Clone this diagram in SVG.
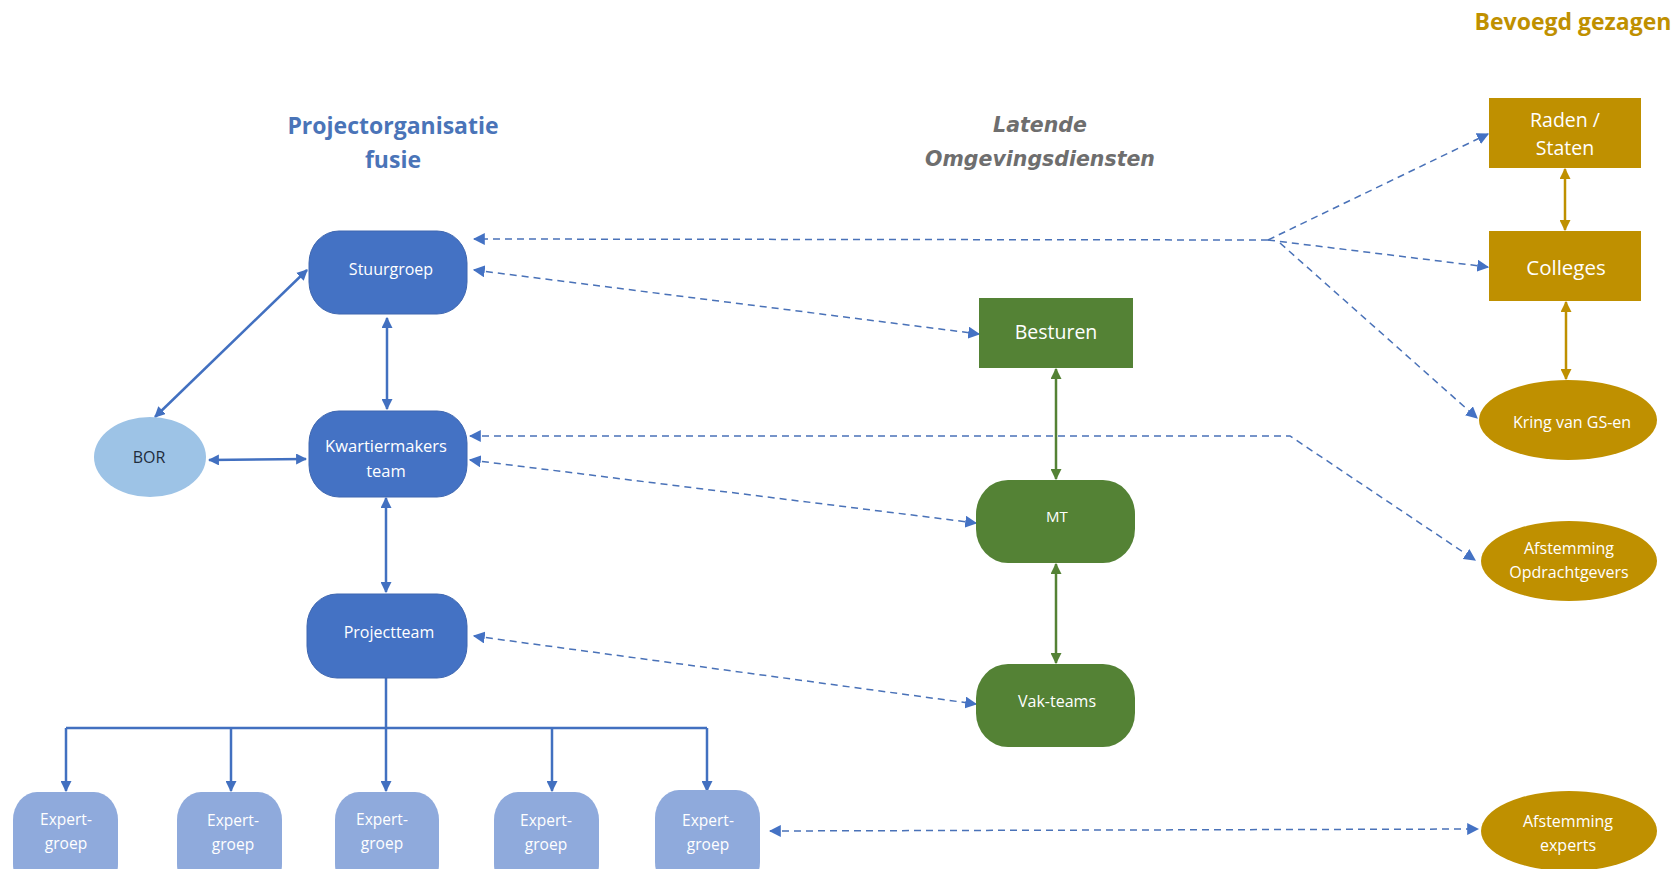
<svg xmlns="http://www.w3.org/2000/svg" width="1676" height="869" viewBox="0 0 1676 869">
<style>
text{font-family:"Open Sans","Liberation Sans",sans-serif;text-anchor:middle}
.nt{fill:#ffffff;font-size:16px}
.blue{fill:#4472C4;stroke:#3F67B0;stroke-width:1}
.exp{fill:#8FAADC}
.green{fill:#548235}
.gold{fill:#BF9000}
.solidB{stroke:#4270C0;stroke-width:2.5;fill:none}
.solidG{stroke:#548235;stroke-width:2.5;fill:none}
.solidY{stroke:#BF9000;stroke-width:2.5;fill:none}
.dash{stroke:#4A72B8;stroke-width:1.5;stroke-dasharray:7 5;fill:none}
</style>
<defs>
<marker id="ab" viewBox="0 0 10 10" refX="9" refY="5" markerWidth="11" markerHeight="11" markerUnits="userSpaceOnUse" orient="auto-start-reverse"><path d="M0,0 L10,5 L0,10 z" fill="#4270C0"/></marker>
<marker id="ag" viewBox="0 0 10 10" refX="9" refY="5" markerWidth="11" markerHeight="11" markerUnits="userSpaceOnUse" orient="auto-start-reverse"><path d="M0,0 L10,5 L0,10 z" fill="#548235"/></marker>
<marker id="ay" viewBox="0 0 10 10" refX="9" refY="5" markerWidth="11" markerHeight="11" markerUnits="userSpaceOnUse" orient="auto-start-reverse"><path d="M0,0 L10,5 L0,10 z" fill="#BF9000"/></marker>
<marker id="ad" viewBox="0 0 10 10" refX="9" refY="5" markerWidth="12" markerHeight="12" markerUnits="userSpaceOnUse" orient="auto-start-reverse"><path d="M0,0 L10,5 L0,10 z" fill="#4472C4"/></marker>
</defs>
<rect width="1676" height="869" fill="#ffffff"/>

<g id="titles">
<text x="393" y="134" style="font-size:23px;font-weight:bold;fill:#4A74B8">Projectorganisatie</text>
<text x="393" y="168" style="font-size:23px;font-weight:bold;fill:#4A74B8">fusie</text>
<text x="1040" y="132" style="font-family:'DejaVu Sans',sans-serif;font-size:20.5px;font-weight:bold;font-style:italic;fill:#6E6E6E">Latende</text>
<text x="1040" y="166" style="font-family:'DejaVu Sans',sans-serif;font-size:20.5px;font-weight:bold;font-style:italic;fill:#6E6E6E">Omgevingsdiensten</text>
<text x="1573" y="30" style="font-size:23px;font-weight:bold;fill:#BF9000">Bevoegd gezagen</text>
</g>

<g id="connectors">
<line class="solidB" x1="307" y1="270" x2="155" y2="417" marker-start="url(#ab)" marker-end="url(#ab)"/>
<line class="solidB" x1="387" y1="318" x2="387" y2="409" marker-start="url(#ab)" marker-end="url(#ab)"/>
<line class="solidB" x1="209" y1="460" x2="306" y2="459" marker-start="url(#ab)" marker-end="url(#ab)"/>
<line class="solidB" x1="386" y1="498" x2="386" y2="592" marker-start="url(#ab)" marker-end="url(#ab)"/>
<polyline class="solidB" points="386,678 386,728"/>
<polyline class="solidB" points="66,728 707,728"/>
<line class="solidB" x1="66" y1="728" x2="66" y2="791" marker-end="url(#ab)"/>
<line class="solidB" x1="231" y1="728" x2="231" y2="791" marker-end="url(#ab)"/>
<line class="solidB" x1="386" y1="728" x2="386" y2="791" marker-end="url(#ab)"/>
<line class="solidB" x1="552" y1="728" x2="552" y2="791" marker-end="url(#ab)"/>
<line class="solidB" x1="707" y1="728" x2="707" y2="791" marker-end="url(#ab)"/>
<line class="solidG" x1="1056" y1="369" x2="1056" y2="479" marker-start="url(#ag)" marker-end="url(#ag)"/>
<line class="solidG" x1="1056" y1="564" x2="1056" y2="663" marker-start="url(#ag)" marker-end="url(#ag)"/>
<line class="solidY" x1="1565" y1="169" x2="1565" y2="230" marker-start="url(#ay)" marker-end="url(#ay)"/>
<line class="solidY" x1="1566" y1="302" x2="1566" y2="379" marker-start="url(#ay)" marker-end="url(#ay)"/>
<polyline class="dash" points="1268,240 474,239" marker-end="url(#ad)"/>
<line class="dash" x1="1268" y1="240" x2="1488" y2="134" marker-end="url(#ad)"/>
<line class="dash" x1="1268" y1="240" x2="1488" y2="267" marker-end="url(#ad)"/>
<line class="dash" x1="1280" y1="243" x2="1477" y2="418" marker-end="url(#ad)"/>
<line class="dash" x1="474" y1="270" x2="979" y2="334" marker-start="url(#ad)" marker-end="url(#ad)"/>
<polyline class="dash" points="470,436 1290,436 1475,560" marker-start="url(#ad)" marker-end="url(#ad)"/>
<line class="dash" x1="470" y1="460" x2="976" y2="523" marker-start="url(#ad)" marker-end="url(#ad)"/>
<line class="dash" x1="474" y1="636" x2="976" y2="704" marker-start="url(#ad)" marker-end="url(#ad)"/>
<line class="dash" x1="770" y1="831" x2="1478" y2="829" marker-start="url(#ad)" marker-end="url(#ad)"/>
</g>

<g id="stuurgroep"><rect class="blue" x="309" y="231" width="158" height="83" rx="30" ry="32"/><text class="nt" x="391" y="275">Stuurgroep</text></g>
<g id="kwartiermakers"><rect class="blue" x="309" y="411" width="158" height="86" rx="30" ry="32"/><text class="nt" x="386" y="452" style="font-size:16.5px">Kwartiermakers</text><text class="nt" x="386" y="477" style="font-size:16.5px">team</text></g>
<g id="projectteam"><rect class="blue" x="307" y="594" width="160" height="84" rx="30" ry="32"/><text class="nt" x="389" y="638">Projectteam</text></g>
<g id="bor"><ellipse cx="150" cy="457" rx="56" ry="40" fill="#9DC3E6"/><text x="149" y="463" style="font-size:16px;fill:#1F2D3D">BOR</text></g>

<g id="expert1"><rect class="exp" x="13" y="792" width="105" height="100" rx="24" ry="28"/><text class="nt" x="66" y="825" style="font-size:15.5px">Expert-</text><text class="nt" x="66" y="849" style="font-size:15.5px">groep</text></g>
<g id="expert2"><rect class="exp" x="177" y="792" width="105" height="100" rx="24" ry="28"/><text class="nt" x="233" y="826" style="font-size:15.5px">Expert-</text><text class="nt" x="233" y="850" style="font-size:15.5px">groep</text></g>
<g id="expert3"><rect class="exp" x="335" y="792" width="104" height="100" rx="24" ry="28"/><text class="nt" x="382" y="825" style="font-size:15.5px">Expert-</text><text class="nt" x="382" y="849" style="font-size:15.5px">groep</text></g>
<g id="expert4"><rect class="exp" x="494" y="792" width="105" height="100" rx="24" ry="28"/><text class="nt" x="546" y="826" style="font-size:15.5px">Expert-</text><text class="nt" x="546" y="850" style="font-size:15.5px">groep</text></g>
<g id="expert5"><rect class="exp" x="655" y="790" width="105" height="100" rx="24" ry="28"/><text class="nt" x="708" y="826" style="font-size:15.5px">Expert-</text><text class="nt" x="708" y="850" style="font-size:15.5px">groep</text></g>

<g id="besturen"><rect class="green" x="979" y="298" width="154" height="70"/><text class="nt" x="1056" y="339" style="font-size:19.5px">Besturen</text></g>
<g id="mt"><rect class="green" x="976" y="480" width="159" height="83" rx="32" ry="34"/><text class="nt" x="1057" y="522" style="font-size:15px">MT</text></g>
<g id="vakteams"><rect class="green" x="976" y="664" width="159" height="83" rx="32" ry="34"/><text class="nt" x="1057" y="707">Vak-teams</text></g>

<g id="raden"><rect class="gold" x="1489" y="98" width="152" height="70"/><text class="nt" x="1565" y="127" style="font-size:19.5px">Raden /</text><text class="nt" x="1565" y="155" style="font-size:19.5px">Staten</text></g>
<g id="colleges"><rect class="gold" x="1489" y="231" width="152" height="70"/><text class="nt" x="1566" y="275" style="font-size:20.5px">Colleges</text></g>
<g id="kring"><ellipse class="gold" cx="1568" cy="420" rx="89" ry="40"/><text class="nt" x="1572" y="428" style="font-size:16px">Kring van GS-en</text></g>
<g id="afst-opdr"><ellipse class="gold" cx="1569" cy="561" rx="88" ry="40"/><text class="nt" x="1569" y="554" style="font-size:16px">Afstemming</text><text class="nt" x="1569" y="578" style="font-size:16px">Opdrachtgevers</text></g>
<g id="afst-exp"><ellipse class="gold" cx="1569" cy="831" rx="88" ry="40"/><text class="nt" x="1568" y="827" style="font-size:16px">Afstemming</text><text class="nt" x="1568" y="851" style="font-size:16px">experts</text></g>
</svg>
